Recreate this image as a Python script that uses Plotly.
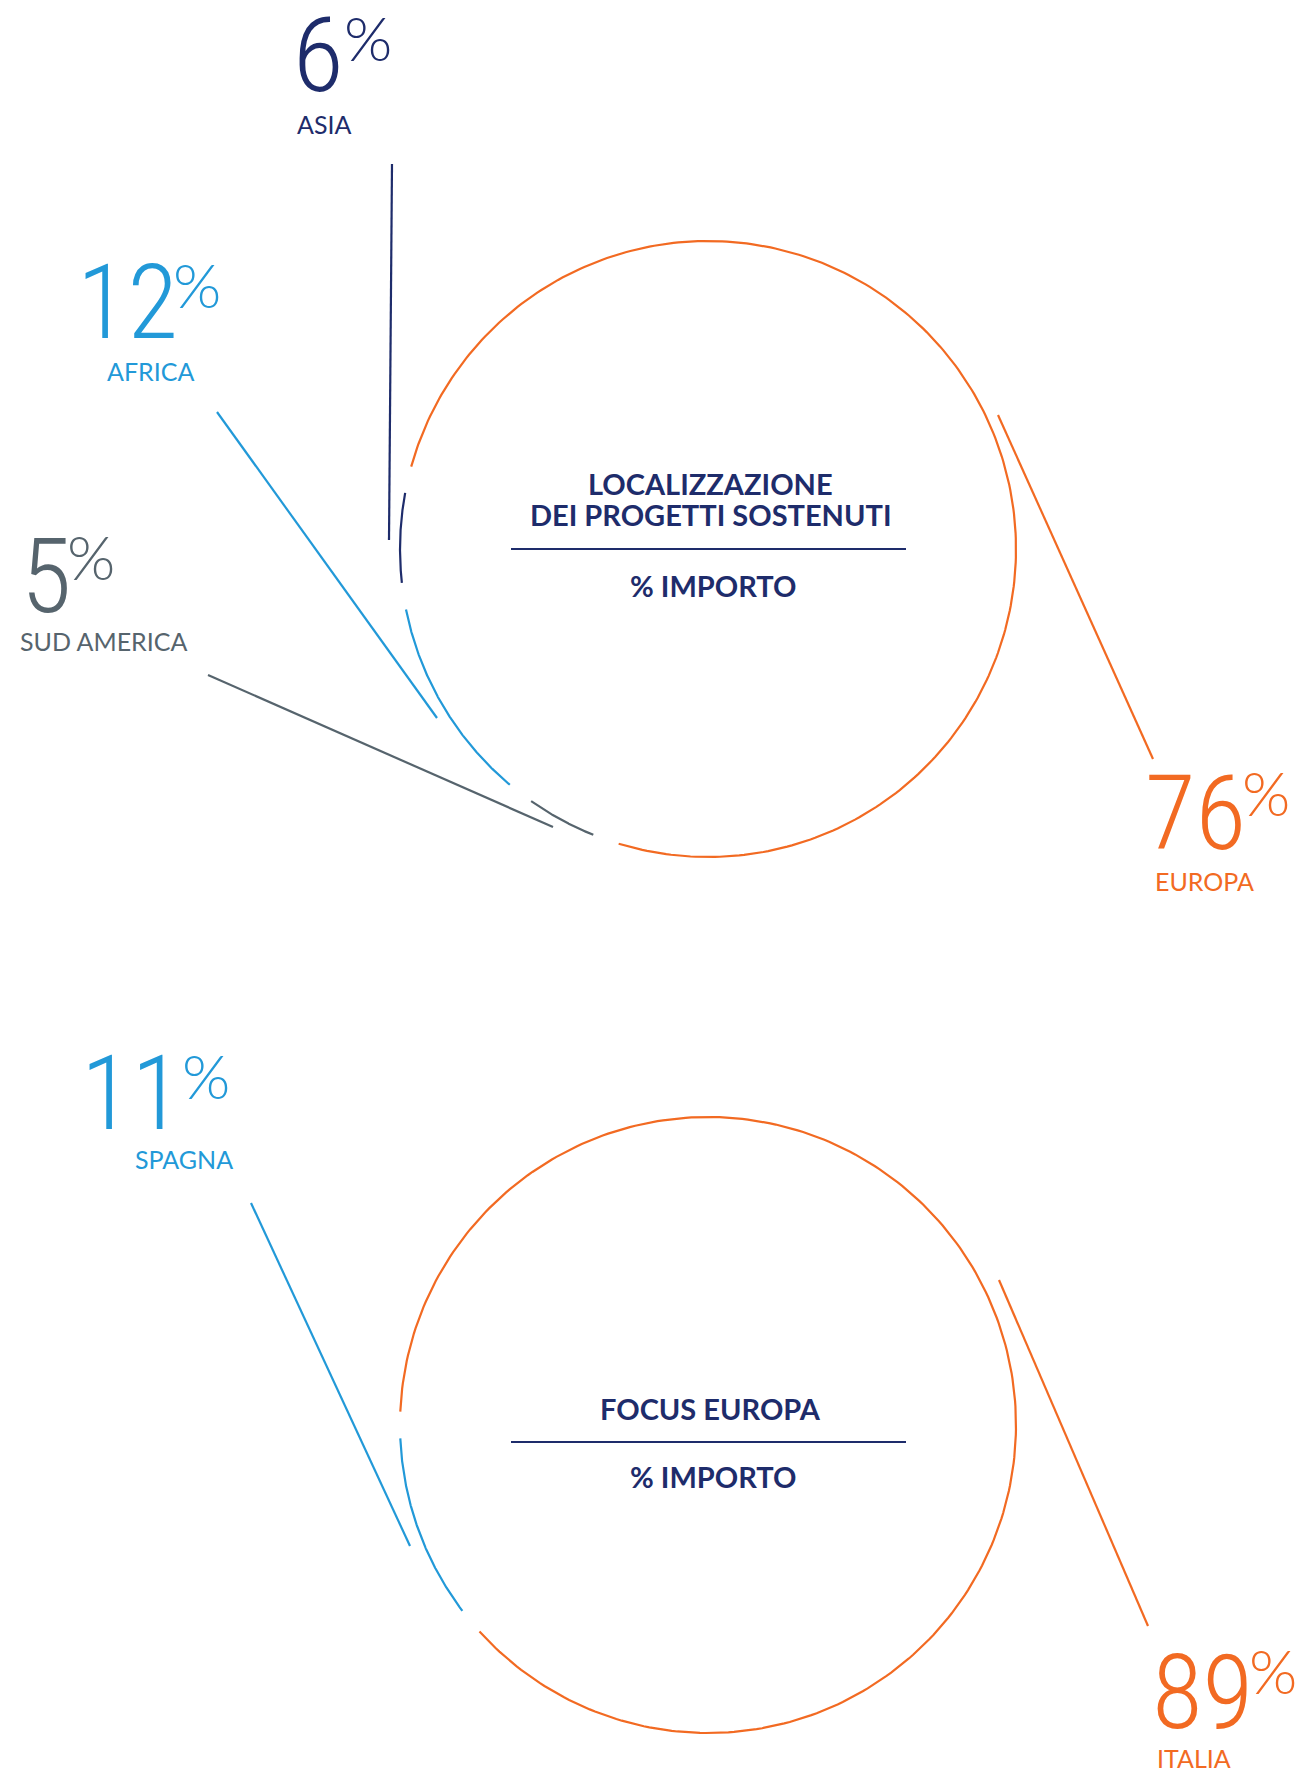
import numpy as np
import plotly.graph_objects as go

# Localizzazione dei progetti sostenuti (% importo)
aree = ["ASIA", "AFRICA", "SUD AMERICA", "EUROPA"]
aree_pct = [6, 12, 5, 76]

# Focus Europa (% importo)
paesi = ["SPAGNA", "ITALIA"]
paesi_pct = [11, 89]

titolo_1 = ["LOCALIZZAZIONE", "DEI PROGETTI SOSTENUTI"]
titolo_2 = ["FOCUS EUROPA"]
sottotitolo = "% IMPORTO"

# colori
NAVY = "#1E2C6B"
AZZURRO = "#2299D8"
GRIGIO = "#56646D"
ARANCIO = "#F26A22"
colori = {"ASIA": NAVY, "AFRICA": AZZURRO, "SUD AMERICA": GRIGIO, "EUROPA": ARANCIO,
          "SPAGNA": AZZURRO, "ITALIA": ARANCIO}

W, H = 1304, 1770
OFF = 8  # margine del body della pagina html
FONT_NUM = "Roboto Condensed, Lato"
FONT_PCT = "Lato"
FONT_TXT = "Lato"

# anelli: centro, raggio, angolo di partenza (gradi, antiorario)
anelli = [
    dict(nomi=aree, pct=aree_pct, centro=(708, 549), raggio=308, inizio=167,
         titolo=titolo_1, titolo_y=[483, 514], linea_y=549, sotto_y=585),
    dict(nomi=paesi, pct=paesi_pct, centro=(708, 1425), raggio=308, inizio=180,
         titolo=titolo_2, titolo_y=[1408], linea_y=1442, sotto_y=1476),
]

# posizioni delle etichette (pixel): fine del numero, inizio del %, nome, linea guida
etichette = {
    "ASIA": dict(num=(346, 55), pct=(347, 37), nome=(295, 124), guida=[(392, 164), (389, 540)]),
    "AFRICA": dict(num=(180, 302), pct=(176, 284), nome=(105, 371), guida=[(217, 412), (437, 718)]),
    "SUD AMERICA": dict(num=(74, 576), pct=(70, 556), nome=(18, 641), guida=[(208, 675), (553, 827)]),
    "EUROPA": dict(num=(1248, 813), pct=(1245, 792), nome=(1153, 881), guida=[(998, 415), (1153, 759)]),
    "SPAGNA": dict(num=(184, 1093), pct=(185, 1075), nome=(133, 1159), guida=[(251, 1203), (410, 1546)]),
    "ITALIA": dict(num=(1255, 1692), pct=(1252, 1670), nome=(1155, 1758), guida=[(999, 1280), (1148, 1626)]),
}

GAP = 5  # gradi di spazio tra gli archi


def archi(pct, inizio, centro, raggio):
    tot = sum(pct)
    a0 = inizio
    out = []
    for p in pct:
        ampiezza = p / tot * 360
        t = np.radians(np.linspace(a0 + GAP / 2, a0 + ampiezza - GAP / 2, 300))
        out.append((centro[0] + raggio * np.cos(t), centro[1] - raggio * np.sin(t)))
        a0 += ampiezza
    return out


fig = go.Figure()
annotazioni = []
forme = []

for an in anelli:
    for nome, p, (x, y) in zip(an["nomi"], an["pct"], archi(an["pct"], an["inizio"], an["centro"], an["raggio"])):
        c = colori[nome]
        fig.add_trace(go.Scatter(x=x, y=y, mode="lines", line=dict(color=c, width=2.2),
                                 hoverinfo="skip", showlegend=False))
        e = etichette[nome]
        gx, gy = zip(*e["guida"])
        fig.add_trace(go.Scatter(x=gx, y=gy, mode="lines", line=dict(color=c, width=2.2),
                                 hoverinfo="skip", showlegend=False))
        annotazioni.append(dict(x=e["num"][0], y=e["num"][1], text=str(p), xanchor="right", yanchor="middle",
                                font=dict(family=FONT_NUM, size=104, color=c, weight=300)))
        annotazioni.append(dict(x=e["pct"][0] - 5, y=e["pct"][1], text="%", xanchor="left", yanchor="middle",
                                font=dict(family=FONT_PCT, size=62, color=c, weight=300)))
        annotazioni.append(dict(x=e["nome"][0], y=e["nome"][1], text=nome, xanchor="left", yanchor="middle",
                                font=dict(family=FONT_TXT, size=25, color=c)))

    cx = an["centro"][0]
    for riga, ty in zip(an["titolo"], an["titolo_y"]):
        annotazioni.append(dict(x=cx + 2, y=ty, text="<b>" + riga + "</b>", xanchor="center", yanchor="middle",
                                font=dict(family=FONT_TXT, size=29, color=NAVY)))
    annotazioni.append(dict(x=cx + 5, y=an["sotto_y"], text="<b>" + sottotitolo + "</b>", xanchor="center",
                            yanchor="middle", font=dict(family=FONT_TXT, size=29, color=NAVY)))
    forme.append(dict(type="line", x0=cx - 197, x1=cx + 198, y0=an["linea_y"], y1=an["linea_y"],
                      line=dict(color=NAVY, width=2)))

for a in annotazioni:
    a.update(xref="x", yref="y", showarrow=False)

fig.update_layout(
    width=W - OFF, height=H - OFF,
    margin=dict(l=0, r=0, t=0, b=0),
    paper_bgcolor="white", plot_bgcolor="white",
    xaxis=dict(range=[OFF, W], visible=False, fixedrange=True),
    yaxis=dict(range=[H, OFF], visible=False, fixedrange=True),
    annotations=annotazioni,
    shapes=forme,
)

fig.write_html("out.html")
